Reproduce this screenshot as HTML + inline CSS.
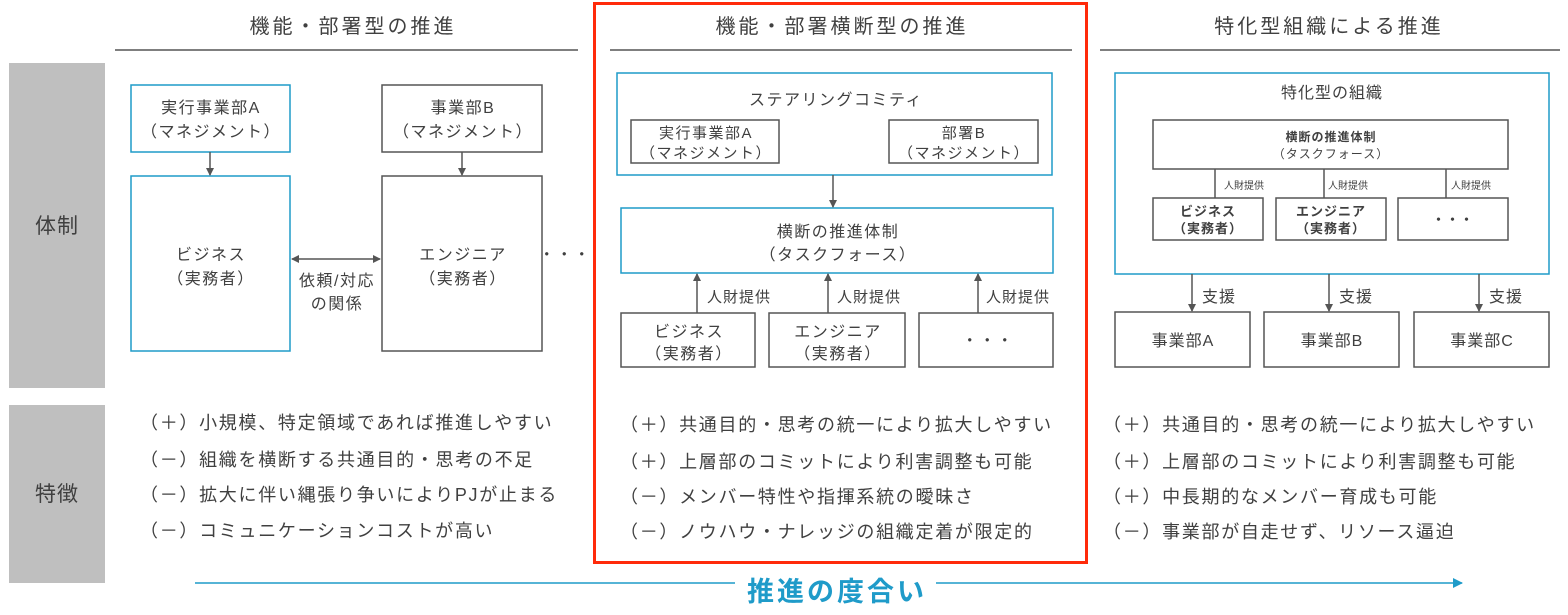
<!DOCTYPE html>
<html><head><meta charset="utf-8"><style>
html,body{margin:0;padding:0;background:#fff;}
svg text{font-family:"Liberation Sans","Noto Sans CJK JP",sans-serif;fill:#404040;}
</style></head><body>
<svg width="1568" height="610" viewBox="0 0 1568 610" xmlns="http://www.w3.org/2000/svg">
<defs>
<marker id="ah" markerWidth="8" markerHeight="8" refX="7" refY="4" orient="auto" markerUnits="userSpaceOnUse"><path d="M0,0 L8,4 L0,8 z" fill="#555"/></marker>
<marker id="ahs" markerWidth="8" markerHeight="8" refX="7" refY="4" orient="auto-start-reverse" markerUnits="userSpaceOnUse"><path d="M0,0 L8,4 L0,8 z" fill="#555"/></marker>
<marker id="ab" markerWidth="10" markerHeight="10" refX="9" refY="5" orient="auto" markerUnits="userSpaceOnUse"><path d="M0,0 L10,5 L0,10 z" fill="#1f9bc9"/></marker>
</defs>
<rect x="9" y="63" width="96" height="325" fill="#bfbfbf"/>
<rect x="9" y="405" width="96" height="178" fill="#bfbfbf"/>
<text x="57" y="233" font-size="21" text-anchor="middle" letter-spacing="1">体制</text>
<text x="57" y="501" font-size="21" text-anchor="middle" letter-spacing="1">特徴</text>
<g font-size="20" text-anchor="middle" letter-spacing="3">
<text x="353" y="33">機能・部署型の推進</text>
<text x="842" y="33">機能・部署横断型の推進</text>
<text x="1329" y="33">特化型組織による推進</text>
</g>
<g stroke="#555" stroke-width="1.5">
<line x1="115" y1="50" x2="578" y2="50"/>
<line x1="610" y1="50" x2="1072" y2="50"/>
<line x1="1100" y1="50" x2="1560" y2="50"/>
</g>
<rect x="594.5" y="3.5" width="492" height="559" fill="none" stroke="#ff2a0a" stroke-width="3"/>

<g fill="#fff" stroke-width="1.5">
<rect x="131" y="85" width="159" height="67" stroke="#1f9bc9"/>
<rect x="131" y="176" width="159" height="175" stroke="#1f9bc9"/>
<rect x="382" y="85" width="160" height="67" stroke="#555"/>
<rect x="382" y="176" width="160" height="175" stroke="#555"/>
</g>
<g font-size="16" text-anchor="middle" letter-spacing="1.5">
<text x="211" y="113">実行事業部A</text>
<text x="211" y="137">（マネジメント）</text>
<text x="463" y="113">事業部B</text>
<text x="463" y="137">（マネジメント）</text>
<text x="211" y="260">ビジネス</text>
<text x="211" y="284">（実務者）</text>
<text x="463" y="260">エンジニア</text>
<text x="463" y="284">（実務者）</text>
<text x="337" y="286">依頼/対応</text>
<text x="337" y="309">の関係</text>
<text x="565" y="260">・・・</text>
</g>
<g stroke="#555" stroke-width="1.5">
<line x1="210" y1="152" x2="210" y2="175" marker-end="url(#ah)"/>
<line x1="462" y1="152" x2="462" y2="175" marker-end="url(#ah)"/>
<line x1="292" y1="259" x2="380" y2="259" marker-start="url(#ahs)" marker-end="url(#ah)"/>
</g>

<g fill="#fff" stroke-width="1.5">
<rect x="617" y="73" width="435" height="102" stroke="#1f9bc9"/>
<rect x="631" y="120" width="148" height="43" stroke="#555"/>
<rect x="889" y="120" width="149" height="43" stroke="#555"/>
<rect x="621" y="208" width="432" height="65" stroke="#1f9bc9"/>
<rect x="621" y="313" width="134" height="54" stroke="#555"/>
<rect x="769" y="313" width="136" height="54" stroke="#555"/>
<rect x="919" y="313" width="134" height="54" stroke="#555"/>
</g>
<g font-size="16" text-anchor="middle" letter-spacing="1.5">
<text x="836" y="105">ステアリングコミティ</text>
<text x="706" y="138" font-size="15">実行事業部A</text>
<text x="706" y="158" font-size="15">（マネジメント）</text>
<text x="964" y="138" font-size="15">部署B</text>
<text x="964" y="158" font-size="15">（マネジメント）</text>
<text x="838" y="237">横断の推進体制</text>
<text x="838" y="260">（タスクフォース）</text>
<text x="689" y="337">ビジネス</text>
<text x="689" y="359">（実務者）</text>
<text x="838" y="337">エンジニア</text>
<text x="838" y="359">（実務者）</text>
<text x="988" y="346">・・・</text>
</g>
<g font-size="15" letter-spacing="1">
<text x="707" y="302">人財提供</text>
<text x="837" y="302">人財提供</text>
<text x="986" y="302">人財提供</text>
</g>
<g stroke="#555" stroke-width="1.5">
<line x1="833" y1="175" x2="833" y2="207" marker-end="url(#ah)"/>
<line x1="697" y1="313" x2="697" y2="274" marker-end="url(#ah)"/>
<line x1="828" y1="313" x2="828" y2="274" marker-end="url(#ah)"/>
<line x1="978" y1="313" x2="978" y2="274" marker-end="url(#ah)"/>
</g>

<g fill="#fff" stroke-width="1.5">
<rect x="1115" y="73" width="434" height="201" stroke="#1f9bc9"/>
<rect x="1153" y="120" width="355" height="49" stroke="#555"/>
<rect x="1153" y="198" width="110" height="42" stroke="#555"/>
<rect x="1276" y="198" width="110" height="42" stroke="#555"/>
<rect x="1398" y="198" width="110" height="42" stroke="#555"/>
<rect x="1115" y="312" width="135" height="55" stroke="#555"/>
<rect x="1264" y="312" width="135" height="55" stroke="#555"/>
<rect x="1414" y="312" width="135" height="55" stroke="#555"/>
</g>
<g stroke="#555" stroke-width="1.5">
<line x1="1215" y1="169" x2="1215" y2="198"/>
<line x1="1324" y1="169" x2="1324" y2="198"/>
<line x1="1446" y1="169" x2="1446" y2="198"/>
<line x1="1192" y1="274" x2="1192" y2="311" marker-end="url(#ah)"/>
<line x1="1329" y1="274" x2="1329" y2="311" marker-end="url(#ah)"/>
<line x1="1479" y1="274" x2="1479" y2="311" marker-end="url(#ah)"/>
</g>
<g text-anchor="middle" letter-spacing="1">
<text x="1332" y="98" font-size="16">特化型の組織</text>
<text x="1331" y="141" font-size="12" font-weight="bold">横断の推進体制</text>
<text x="1331" y="158" font-size="12">（タスクフォース）</text>
<text x="1208" y="216" font-size="13" font-weight="bold">ビジネス</text>
<text x="1208" y="233" font-size="13" font-weight="bold">（実務者）</text>
<text x="1331" y="216" font-size="13" font-weight="bold">エンジニア</text>
<text x="1331" y="233" font-size="13" font-weight="bold">（実務者）</text>
<text x="1453" y="224" font-size="13" font-weight="bold">・・・</text>
<text x="1183" y="346" font-size="16">事業部A</text>
<text x="1332" y="346" font-size="16">事業部B</text>
<text x="1482" y="346" font-size="16">事業部C</text>
</g>
<g font-size="10">
<text x="1224" y="189">人財提供</text>
<text x="1328" y="189">人財提供</text>
<text x="1451" y="189">人財提供</text>
</g>
<g font-size="16" letter-spacing="1">
<text x="1202" y="302">支援</text>
<text x="1339" y="302">支援</text>
<text x="1489" y="302">支援</text>
</g>

<g font-size="18" letter-spacing="1.7">
<text x="140" y="429">（＋）小規模、特定領域であれば推進しやすい</text>
<text x="140" y="466">（－）組織を横断する共通目的・思考の不足</text>
<text x="140" y="501">（－）拡大に伴い縄張り争いによりPJが止まる</text>
<text x="140" y="537">（－）コミュニケーションコストが高い</text>
<text x="620" y="431">（＋）共通目的・思考の統一により拡大しやすい</text>
<text x="620" y="468">（＋）上層部のコミットにより利害調整も可能</text>
<text x="620" y="503">（－）メンバー特性や指揮系統の曖昧さ</text>
<text x="620" y="538">（－）ノウハウ・ナレッジの組織定着が限定的</text>
<text x="1103" y="431">（＋）共通目的・思考の統一により拡大しやすい</text>
<text x="1103" y="468">（＋）上層部のコミットにより利害調整も可能</text>
<text x="1103" y="503">（＋）中長期的なメンバー育成も可能</text>
<text x="1103" y="538">（－）事業部が自走せず、リソース逼迫</text>
</g>

<line x1="195" y1="583" x2="735" y2="583" stroke="#1f9bc9" stroke-width="1.5"/>
<line x1="936" y1="583" x2="1462" y2="583" stroke="#1f9bc9" stroke-width="1.5" marker-end="url(#ab)"/>
<text x="837" y="601" font-size="27" text-anchor="middle" letter-spacing="3" font-weight="bold" style="fill:#1f9bc9">推進の度合い</text>
</svg>
</body></html>
